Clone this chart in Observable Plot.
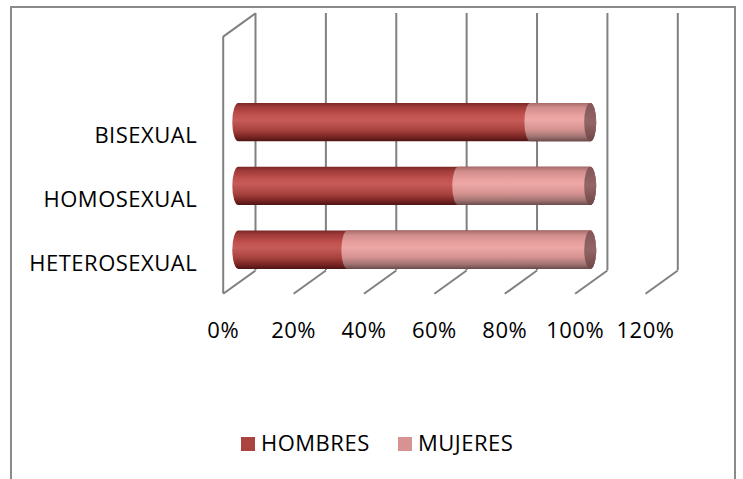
<!DOCTYPE html>
<html>
<head>
<meta charset="utf-8">
<script src="https://cdn.jsdelivr.net/npm/d3@7"></script>
<script src="https://cdn.jsdelivr.net/npm/@observablehq/plot@0.6"></script>
<style>
  html, body { margin: 0; padding: 0; background: #fff; width: 743px; height: 479px; overflow: hidden; }
  #frame { position: absolute; left: 10px; top: 6px; width: 726px; height: 500px; border: 2px solid #8a8a8a; box-sizing: border-box; }
  #chart { position: absolute; left: 0; top: 0; }
  #chart svg text { letter-spacing: 0.5px; }
  #legend { position: absolute; top: 430px; left: 0; width: 743px; height: 28px; font-family: "Open Sans", sans-serif; font-size: 22px; letter-spacing: 0.5px; color: #000; }
  .sw { position: absolute; top: 7px; width: 14px; height: 14px; }
  .lb { position: absolute; top: -2px; line-height: 28px; }
</style>
</head>
<body>
<div id="frame"></div>
<div id="chart"></div>
<div id="legend"></div>
<script>
// ---- data ----
const categories = ["HETEROSEXUAL", "HOMOSEXUAL", "BISEXUAL"];
const series = ["HOMBRES", "MUJERES"];
const hombres = [0.31, 0.625, 0.83];
const mujeres = [0.69, 0.375, 0.17];
const tickValues = [0, 0.2, 0.4, 0.6, 0.8, 1.0, 1.2];
const tickLabels = ["0%", "20%", "40%", "60%", "80%", "100%", "120%"];

// ---- 3D projection constants (data units) ----
const WALL_TOP = 4.03;      // height of walls in y units
const DEPTH_X = 0.0918;     // back-wall offset in x units
const DEPTH_Y = 0.365;      // back-wall offset in y units
const HALF = 0.3;           // half bar thickness

// table built from the arrays
const rows = [];
categories.forEach((c, i) => {
  rows.push({cat: c, pos: i + 0.5, start: 0, end: hombres[i] + mujeres[i], series: "HOMBRES"});
  rows.push({cat: c, pos: i + 0.5, start: hombres[i], end: hombres[i] + mujeres[i], series: "MUJERES"});
});
const redRows = rows.filter(d => d.series === "HOMBRES");
const pinkRows = rows.filter(d => d.series === "MUJERES");

const grid = {stroke: "#808080", strokeWidth: 2};
const barShift = {dx: 15.6, dy: -11.65};

const plot = Plot.plot({
  width: 743,
  height: 360,
  style: {background: "transparent", overflow: "visible"},
  x: {domain: [0, 1.2], range: [222.7, 645], axis: null},
  y: {domain: [0, 4], range: [293.3, 38.1], axis: null},
  marks: [
    // back wall grid lines
    Plot.ruleX(tickValues, {x: d => d, y1: 0, y2: WALL_TOP, dx: 32.3, dy: -23.3, ...grid}),
    // floor diagonals
    Plot.link(tickValues, {x1: d => d, y1: 0, x2: d => d + DEPTH_X, y2: DEPTH_Y, ...grid}),
    // left wall
    Plot.ruleX([0], {x: d => d, y1: 0, y2: WALL_TOP, ...grid}),
    Plot.link([0], {x1: d => d, y1: WALL_TOP, x2: d => d + DEPTH_X, y2: WALL_TOP + DEPTH_Y, ...grid}),
    // cylinder bodies (HOMBRES under full length)
    Plot.rect(redRows, {x1: "start", x2: "end", y1: d => d.pos - HALF, y2: d => d.pos + HALF,
      fill: "url(#gRed)", rx: 6, ry: 20, insetLeft: -6, insetRight: -6, ...barShift}),
    // MUJERES segments
    Plot.rect(pinkRows, {x1: "start", x2: "end", y1: d => d.pos - HALF, y2: d => d.pos + HALF,
      fill: "url(#gPink)", rx: 6, ry: 20, insetLeft: -6, insetRight: -6, ...barShift}),
    // end caps
    Plot.rect(pinkRows, {x1: "end", x2: "end", y1: d => d.pos - HALF, y2: d => d.pos + HALF,
      fill: "url(#gCap)", rx: 6, ry: 20, insetLeft: -6, insetRight: -6, ...barShift}),
    // category labels
    Plot.text(categories, {x: () => 0, y: (d, i) => i + 0.5, text: d => d, textAnchor: "end",
      dx: -26, dy: 2, fontSize: 22, fontFamily: "Open Sans", fill: "#000"}),
    // x tick labels
    Plot.text(tickValues, {x: d => d, y: () => 0, text: (d, i) => tickLabels[i],
      dy: 37, fontSize: 22, fontFamily: "Open Sans", fill: "#000"})
  ]
});

// gradient definitions for the cylinder shading
const ns = "http://www.w3.org/2000/svg";
const defs = document.createElementNS(ns, "defs");
function grad(id, stops) {
  const g = document.createElementNS(ns, "linearGradient");
  g.setAttribute("id", id);
  g.setAttribute("x1", "0"); g.setAttribute("y1", "0");
  g.setAttribute("x2", "0"); g.setAttribute("y2", "1");
  stops.forEach(([o, c]) => {
    const s = document.createElementNS(ns, "stop");
    s.setAttribute("offset", o);
    s.setAttribute("stop-color", c);
    g.appendChild(s);
  });
  defs.appendChild(g);
}
grad("gRed", [[0, "#7a2826"], [0.1, "#9e3b38"], [0.3, "#c0504d"], [0.45, "#c65b58"], [0.7, "#a9433f"], [0.88, "#7a2624"], [1, "#4e1413"]]);
grad("gPink", [[0, "#a86b6a"], [0.12, "#d08e8c"], [0.32, "#e8a09e"], [0.45, "#eda8a6"], [0.7, "#d3918f"], [0.88, "#a07372"], [1, "#6a4a4a"]]);
grad("gCap", [[0, "#845656"], [0.5, "#946566"], [1, "#6e4747"]]);
plot.insertBefore(defs, plot.firstChild);
document.getElementById("chart").appendChild(plot);

// legend
const legendColors = ["#ab4441", "#d69391"];
const legendX = [241, 398];
const legend = document.getElementById("legend");
series.forEach((s, i) => {
  const sw = document.createElement("div");
  sw.className = "sw";
  sw.style.left = legendX[i] + "px";
  sw.style.background = legendColors[i];
  legend.appendChild(sw);
  const lb = document.createElement("div");
  lb.className = "lb";
  lb.style.left = (legendX[i] + 20) + "px";
  lb.textContent = s;
  legend.appendChild(lb);
});
</script>
</body>
</html>
